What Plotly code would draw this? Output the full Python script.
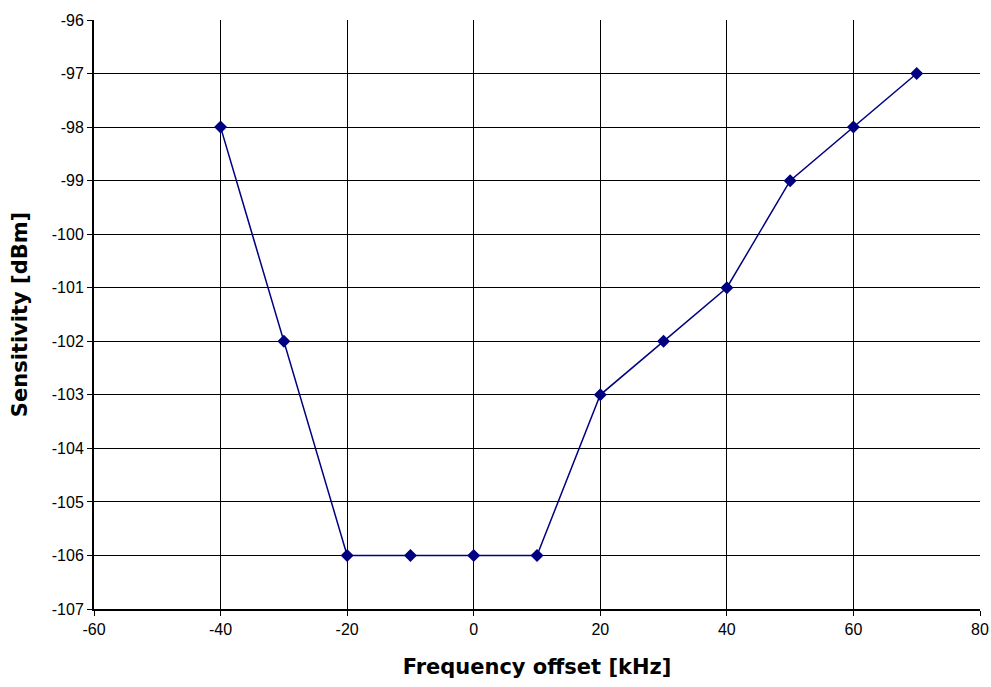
import plotly.graph_objects as go

# Sensitivity vs frequency offset
freq_offset_khz = [-40, -30, -20, -10, 0, 10, 20, 30, 40, 50, 60, 70]
sensitivity_dbm = [-98, -102, -106, -106, -106, -106, -103, -102, -101, -99, -98, -97]

x_ticks = [-60, -40, -20, 0, 20, 40, 60, 80]
y_ticks = list(range(-107, -95))

NAVY = "#000080"
TICK_FONT = "Liberation Sans, Arial, sans-serif"
TITLE_FONT = "DejaVu Sans, Arial, sans-serif"

fig = go.Figure(go.Scatter(
    x=freq_offset_khz, y=sensitivity_dbm,
    mode="lines+markers",
    line=dict(color=NAVY, width=1.5),
    marker=dict(symbol="diamond", size=10, color=NAVY),
    showlegend=False,
))

axis_common = dict(
    showgrid=True, gridcolor="black", gridwidth=1,
    zeroline=False, automargin=False,
    showline=True, linecolor="black", linewidth=2,
    ticks="outside", ticklen=5, tickcolor="black", tickwidth=1,
    tickfont=dict(family=TICK_FONT, size=16, color="black"),
)

# plain hyphen minus like the original, not the unicode minus
fig.update_xaxes(
    range=[-60, 80], tickvals=x_ticks, ticktext=[str(v) for v in x_ticks],
    title=dict(text="<b>Frequency offset [kHz]</b>", font=dict(family=TITLE_FONT, size=21, color="black"), standoff=22),
    **axis_common,
)
fig.update_yaxes(
    range=[-107, -96], tickvals=y_ticks, ticktext=[str(v) for v in y_ticks],
    title=dict(text="<b>Sensitivity [dBm]</b>", font=dict(family=TITLE_FONT, size=21, color="black"), standoff=18),
    **axis_common,
)

fig.update_layout(
    width=991, height=687,
    plot_bgcolor="white", paper_bgcolor="white",
    margin=dict(l=94, r=11, t=20, b=78),
)

# drop the default 8px page margin so the figure fills the window exactly
fig.write_html(
    "out.html",
    config={"displayModeBar": False},
    post_script="document.body.style.margin='0';document.body.style.overflow='hidden';",
)
